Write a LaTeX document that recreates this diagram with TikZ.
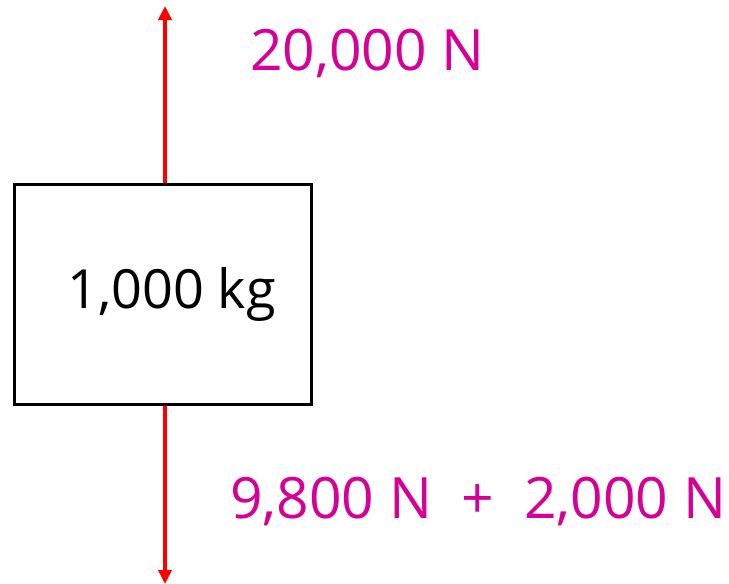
\documentclass[tikz,border=0pt]{standalone}
\usepackage{fontspec}
\setmainfont{Open Sans}
\usetikzlibrary{arrows.meta, positioning}
\definecolor{forcepink}{RGB}{214,0,148}

\begin{document}
\begin{tikzpicture}[
    x=1pt, y=-1pt,
    mass/.style={rectangle, draw, line width=3pt, minimum width=297pt, minimum height=220pt, inner sep=0pt, font=\fontsize{54}{62}\selectfont},
    force/.style={draw=red, line width=3.5pt, -{Triangle[length=14pt, width=13pt]}},
    forcetext/.style={anchor=base west, inner sep=0pt, text=forcepink, font=\fontsize{57}{64}\selectfont}
]
    \useasboundingbox (0,0) rectangle (729,584);
    \node (box) [mass] at (162.5,294.5) {\hspace{18pt}1,000 kg};
    \coordinate (uptip) at (165,6);
    \coordinate (downtip) at (165,584);
    \node (up) [forcetext] at (250,70) {20,000 N};
    \node (down) [forcetext] at (230,518) {9,800 N \ + \ 2,000 N};

    \draw [force] (box.north -| uptip) -- (uptip);
    \draw [force] (box.south -| downtip) -- (downtip);
\end{tikzpicture}
\end{document}
